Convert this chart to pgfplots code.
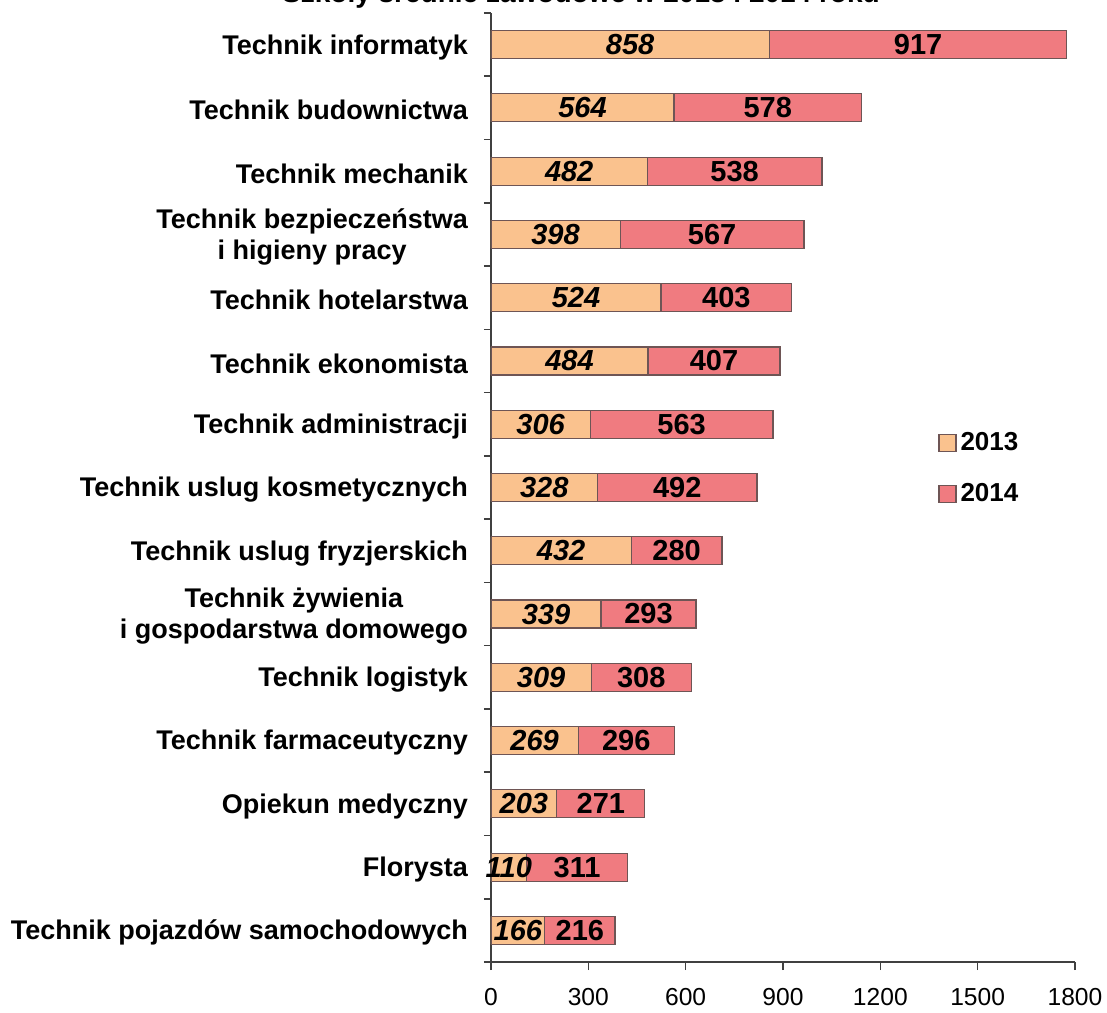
\documentclass[border=0pt]{standalone}
\usepackage{pgfplots}
\pgfplotsset{compat=1.18}
\usepackage{fontspec}
\setmainfont{Liberation Sans}
\setsansfont{Liberation Sans}
\definecolor{cA}{HTML}{FAC28E}
\definecolor{cB}{HTML}{F07B80}
\definecolor{edge}{HTML}{6E5555}
\begin{document}
\begin{tikzpicture}
\begin{axis}[
  at={(0,0)}, anchor=south west,
  scale only axis, width=292pt, height=474.5pt,
  xbar stacked, bar width=14pt,
  xmin=0, xmax=1800, ymin=-0.5, ymax=14.5,
  xtick={0,300,...,1800},
  ytick={0,...,14},
  minor ytick={-0.5,0.5,...,14.5},
  yticklabels={
    Technik pojazdów samochodowych,
    Florysta,
    Opiekun medyczny,
    Technik farmaceutyczny,
    Technik logistyk,
    {Technik żywienia\\i gospodarstwa domowego},
    Technik uslug fryzjerskich,
    Technik uslug kosmetycznych,
    Technik administracji,
    Technik ekonomista,
    Technik hotelarstwa,
    {Technik bezpieczeństwa\\i higieny pracy},
    Technik mechanik,
    Technik budownictwa,
    Technik informatyk},
  axis x line*=bottom, axis y line*=left,
  axis line style={-, draw=black!75, line width=0.8pt},
  tick align=outside,
  major tick length=4pt, minor tick length=3.5pt,
  major y tick style={draw=none},
  minor y tick style={draw=black!75, line width=0.8pt},
  major x tick style={draw=black!75, line width=0.8pt},
  /pgf/number format/assume math mode=true,
  /pgf/number format/1000 sep={},
  xticklabel style={font=\fontsize{12.3}{14}\selectfont, inner sep=0.5pt, yshift=-8.5pt},
  yticklabel style={font=\fontsize{13.5}{15.5}\selectfont\bfseries, align=center, xshift=-4pt, yshift=-1.2pt},
  legend style={at={(rel axis cs:0.755,0.567)}, anchor=north west, draw=none, fill=none,
    font=\fontsize{13}{15}\selectfont\bfseries, row sep=11pt,
    legend cell align=left},
  legend image code/.code={\draw[#1] (0pt,-4.25pt) rectangle (8.5pt,4.25pt);},
]
\addplot[draw=edge, line width=0.6pt, fill=cA] coordinates {
 (166,0) (110,1) (203,2) (269,3) (309,4) (339,5) (432,6) (328,7) (306,8) (484,9) (524,10) (398,11) (482,12) (564,13) (858,14)};
\addlegendentry{2013}
\addplot[draw=edge, line width=0.6pt, fill=cB] coordinates {
 (216,0) (311,1) (271,2) (296,3) (308,4) (293,5) (280,6) (492,7) (563,8) (407,9) (403,10) (567,11) (538,12) (578,13) (917,14)};
\addlegendentry{2014}
\end{axis}
\begin{axis}[
  at={(0,0)}, anchor=south west,
  scale only axis, width=292pt, height=474.5pt,
  xmin=0, xmax=1800, ymin=-0.5, ymax=14.5,
  hide axis,
  nodes near coords, point meta=explicit symbolic,
  every node near coord/.append style={anchor=center, inner sep=0pt},
]
\addplot[draw=none, mark=none, nodes near coords style={font=\fontsize{14.5}{17}\selectfont\bfseries\itshape}] coordinates {
 (83,0)[166] (55,1)[110] (101.5,2)[203] (134.5,3)[269] (154.5,4)[309] (169.5,5)[339] (216,6)[432] (164,7)[328] (153,8)[306] (242,9)[484] (262,10)[524] (199,11)[398] (241,12)[482] (282,13)[564] (429,14)[858]};
\addplot[draw=none, mark=none, nodes near coords style={font=\fontsize{14.5}{17}\selectfont\bfseries}] coordinates {
 (274,0)[216] (265.5,1)[311] (338.5,2)[271] (417,3)[296] (463,4)[308] (485.5,5)[293] (572,6)[280] (574,7)[492] (587.5,8)[563] (687.5,9)[407] (725.5,10)[403] (681.5,11)[567] (751,12)[538] (853,13)[578] (1316.5,14)[917]};
\end{axis}
\node[font=\fontsize{14}{16}\selectfont\bfseries, anchor=base] at (45pt,479.5pt) {Szkoły średnie zawodowe w 2013 i 2014 roku};
\pgfresetboundingbox
\path[use as bounding box] (-245.5pt,-25pt) rectangle (308pt,481pt);
\end{tikzpicture}
\end{document}
